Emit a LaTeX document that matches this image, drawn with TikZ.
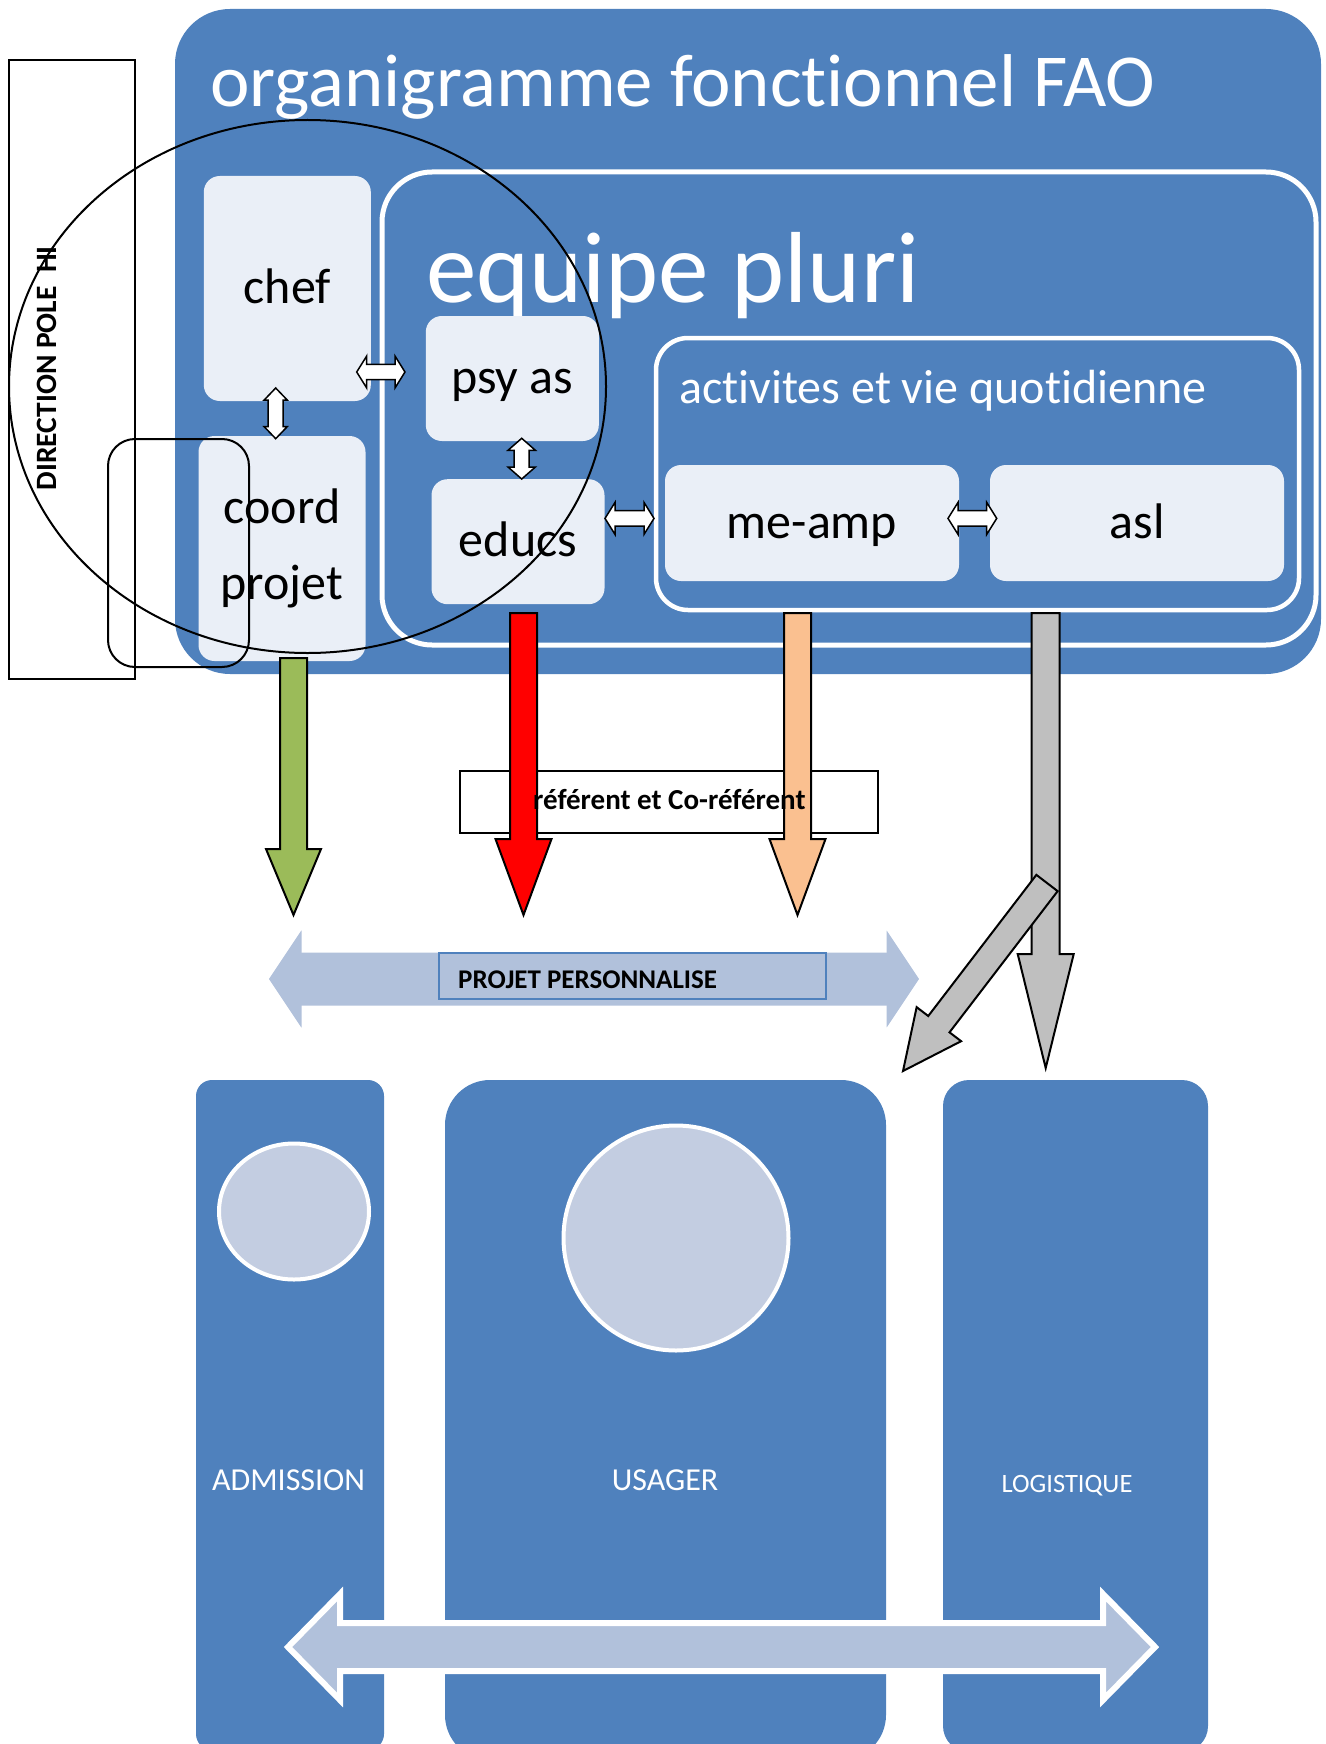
\documentclass[tikz,border=0pt]{standalone}
\usepackage{fontspec}
\setmainfont{Carlito}[RawFeature={-liga;-clig;-calt;-dlig}]
\usetikzlibrary{calc,shapes.geometric}
\definecolor{mainblue}{HTML}{4F81BD}
\definecolor{lightbox}{HTML}{EAEFF7}
\definecolor{circfill}{HTML}{C3CDE1}
\definecolor{arrlight}{HTML}{B1C1DB}
\definecolor{agreen}{HTML}{9BBB59}
\definecolor{ared}{HTML}{FF0000}
\definecolor{aorange}{HTML}{FAC090}
\definecolor{agray}{HTML}{BFBFBF}
\newcommand{\fsz}[2]{\fontsize{#1}{#2}\selectfont}
% double block arrow: #1 style, #2 end A, #3 end B, #4 head length, #5 head half width, #6 shaft half width
\newcommand{\dblarrow}[6]{%
  \path (#2) coordinate (dA) (#3) coordinate (dB)
        ($(dA)!#4!(dB)$) coordinate (dHA) ($(dB)!#4!(dA)$) coordinate (dHB);
  \draw[#1] (dA) -- ($(dHA)!#5!90:(dB)$) -- ($(dHA)!#6!90:(dB)$) -- ($(dHB)!#6!-90:(dA)$)
     -- ($(dHB)!#5!-90:(dA)$) -- (dB) -- ($(dHB)!#5!90:(dA)$) -- ($(dHB)!#6!90:(dA)$)
     -- ($(dHA)!#6!-90:(dB)$) -- ($(dHA)!#5!-90:(dB)$) -- cycle;}
% single block arrow: #1 style, #2 tail, #3 tip, #4 head length, #5 head half width, #6 shaft half width
\newcommand{\blockarrow}[6]{%
  \path (#2) coordinate (sT) (#3) coordinate (sP) ($(sP)!#4!(sT)$) coordinate (sH);
  \draw[#1] ($(sT)!#6!90:(sP)$) -- ($(sH)!#6!-90:(sT)$) -- ($(sH)!#5!-90:(sT)$) -- (sP)
     -- ($(sH)!#5!90:(sT)$) -- ($(sH)!#6!90:(sT)$) -- ($(sT)!#6!-90:(sP)$) -- cycle;}
\begin{document}
\begin{tikzpicture}[x=1pt,y=-1pt,line join=miter,
  lbox/.style={fill=lightbox,rounded corners=16pt,inner sep=0pt,font=\fsz{50}{76},text=black,align=center},
  onel/.style={text height=38pt,text depth=8pt},
  wbox/.style={draw=white,line width=5pt,rounded corners=#1,inner sep=0pt},
  wtitle/.style={anchor=base west,text=white,inner sep=0pt},
  smallarr/.style={fill=white,draw=black,line width=1.5pt},
  downarr/.style={fill=#1,draw=black,line width=2pt},
  column/.style={fill=mainblue,draw=none,rounded corners=#1,inner sep=0pt},
  circ/.style={ellipse,fill=circfill,draw=white,line width=4pt,inner sep=0pt},
  outline/.style={draw=black,line width=2pt,inner sep=0pt},
  collabel/.style={anchor=base,text=white,inner sep=0pt}]
\useasboundingbox (0,0) rectangle (1325,1744);

% ---------- top organigram ----------
\node[fill=mainblue,rounded corners=55pt,minimum width=1146pt,minimum height=665pt,inner sep=0pt] (main) at (748,341.5) {};
\node[wtitle,font=\fsz{74.8}{90}] (title) at (210,107) {organigramme fonctionnel FAO};

\node[lbox,onel,minimum width=167pt,minimum height=225pt] (chef) at (287.3,288.5) {chef};
\node[lbox,minimum width=167pt,minimum height=225pt] (coord) at (282,548.5) {coord\\projet};

\node[wbox=50pt,minimum width=934pt,minimum height=473pt] (equipe) at (849,408.5) {};
\node[wtitle,font=\fsz{101}{120}] (equipetitle) at (426,302) {equipe pluri};
\node[lbox,onel,minimum width=173pt,minimum height=125pt] (psy) at (512.3,378.5) {psy as};
\node[lbox,onel,minimum width=173pt,minimum height=125pt] (educs) at (518,541.7) {educs};

\node[wbox=32pt,line width=4.5pt,minimum width=643pt,minimum height=272pt] (activ) at (977.5,474) {};
\node[wtitle,font=\fsz{48}{58}] (activtitle) at (679,403) {activites et vie quotidienne};
\node[lbox,onel,minimum width=294pt,minimum height=116pt] (meamp) at (812,523) {me-amp};
\node[lbox,onel,minimum width=294pt,minimum height=116pt] (asl) at (1137,523) {asl};

% small two-way connectors
\coordinate (cpA) at (356.7,372);   \coordinate (cpB) at (405,372);
\coordinate (ccA) at (275.7,388);   \coordinate (ccB) at (275.7,438.7);
\coordinate (peA) at (521.7,438.3); \coordinate (peB) at (521.7,479);
\coordinate (emA) at (605,518.4);   \coordinate (emB) at (654,518.4);
\coordinate (maA) at (948,518.4);   \coordinate (maB) at (996.7,518.4);
\dblarrow{smallarr}{cpA}{cpB}{10pt}{16pt}{7.7pt}
\dblarrow{smallarr}{ccA}{ccB}{12pt}{11.5pt}{7.5pt}
\dblarrow{smallarr}{peA}{peB}{12pt}{13.7pt}{7.5pt}
\dblarrow{smallarr}{emA}{emB}{10pt}{16pt}{7.7pt}
\dblarrow{smallarr}{maA}{maB}{10pt}{16pt}{7.7pt}

% ---------- referent box and downward arrows ----------
\node[outline,line width=2.2pt,minimum width=418pt,minimum height=62pt] (refbox) at (669,802) {};

\coordinate (gT) at (293.5,658);  \coordinate (gP) at (293.5,915);
\coordinate (rT) at (523.5,613);  \coordinate (rP) at (523.5,915);
\coordinate (oT) at (797.5,613);  \coordinate (oP) at (797.5,915);
\coordinate (yT) at (1045.7,613); \coordinate (yP) at (1045.7,1068);
\coordinate (dT) at (1047,883);   \coordinate (dP) at (903,1071);
\blockarrow{downarr=agreen}{gT}{gP}{66pt}{27.5pt}{13.5pt}
\blockarrow{downarr=ared}{rT}{rP}{76pt}{28pt}{13.5pt}
\blockarrow{downarr=aorange}{oT}{oP}{76pt}{28pt}{13.5pt}
\blockarrow{downarr=agray}{yT}{yP}{114pt}{28pt}{14pt}
\blockarrow{downarr=agray}{dT}{dP}{59pt}{28pt}{13.4pt}

\node[anchor=base,font=\bfseries\fsz{29}{35},inner sep=0pt] (reftext) at (669.4,809) {référent et Co-référent};

% ---------- overlays on the left ----------
\node[draw=black,line width=2pt,ellipse,minimum width=597pt,minimum height=533pt,inner sep=0pt] (bigell) at (307.5,386.5) {};
\node[outline,minimum width=126pt,minimum height=619pt] (dir) at (72,369.5) {};
\node[font=\bfseries\fsz{29.5}{35},rotate=90,inner sep=0pt] (dirtext) at (47,368.3) {DIRECTION POLE\ \ HI};
\node[outline,rounded corners=27pt,minimum width=141pt,minimum height=228pt] (smallrect) at (178.5,553) {};

% ---------- projet personnalise ----------
\coordinate (ppL) at (267,979); \coordinate (ppR) at (921,979);
\dblarrow{fill=arrlight,draw=white,line width=3pt}{ppL}{ppR}{36pt}{54pt}{28pt}
\node[fill=arrlight,draw=mainblue,line width=2pt,minimum width=387pt,minimum height=46.6pt,inner sep=0pt] (ppbox) at (632,976) {};
\node[anchor=base west,font=\bfseries\fsz{27}{32},inner sep=0pt] (pptext) at (458,988) {PROJET PERSONNALISE};

% ---------- bottom columns ----------
\node[column=16pt,minimum width=188pt,minimum height=670pt] (adm) at (290,1415) {};
\node[column=45pt,minimum width=441pt,minimum height=680pt] (usa) at (665.5,1420) {};
\node[column=26pt,minimum width=265pt,minimum height=672pt] (logi) at (1075.5,1416) {};

\node[circ,minimum width=150pt,minimum height=136pt] (admcirc) at (294,1211.5) {};
\node[circ,minimum width=225pt,minimum height=225pt] (usacirc) at (676,1238) {};

\node[collabel,font=\fsz{32}{38}] (admlabel) at (288.6,1490) {ADMISSION};
\node[collabel,font=\fsz{32}{38}] (usalabel) at (665,1490) {USAGER};
\node[collabel,font=\fsz{26.5}{32}] (loglabel) at (1067,1492.5) {LOGISTIQUE};

\coordinate (bL) at (288,1647); \coordinate (bR) at (1155,1647);
\dblarrow{fill=arrlight,draw=white,line width=6pt}{bL}{bR}{52pt}{53pt}{24pt}
\end{tikzpicture}
\end{document}
